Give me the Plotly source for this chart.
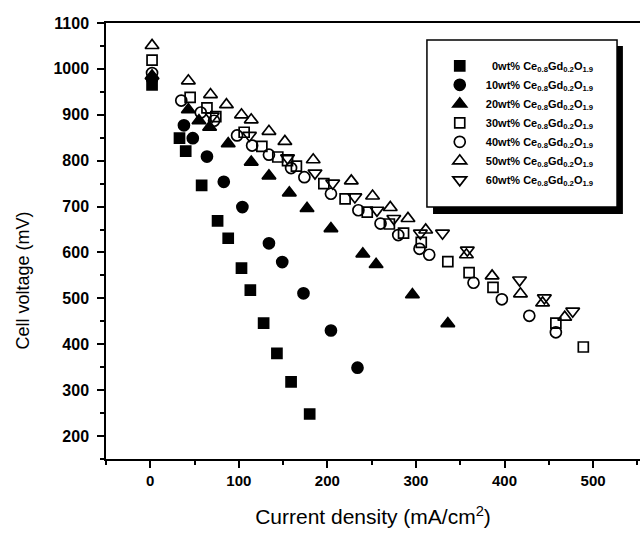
import plotly.graph_objects as go

# ---- data ----
labels = ["\u20070wt%", "10wt%", "20wt%", "30wt%", "40wt%", "50wt%", "60wt%"]

x0 = [2, 33, 40, 58, 76, 88, 103, 113, 128, 143, 159, 180]
y0 = [965, 849, 821, 746, 669, 631, 566, 518, 446, 380, 318, 248]

x10 = [2, 38, 48, 64, 83, 104, 134, 149, 173, 204, 234]
y10 = [978, 877, 849, 809, 754, 699, 620, 579, 511, 430, 349]

x20 = [2, 43, 55, 67, 88, 114, 134, 157, 177, 204, 240, 255, 296, 336]
y20 = [985, 911, 887, 873, 837, 797, 767, 730, 696, 652, 597, 574, 508, 445]

x30 = [2, 45, 64, 74, 106, 126, 144, 155, 165, 196, 220, 245, 270, 286, 306, 336, 360, 387, 458, 489]
y30 = [1019, 938, 915, 896, 862, 831, 808, 800, 788, 750, 717, 688, 662, 642, 622, 580, 556, 524, 446, 394]

x40 = [2, 35, 57, 72, 98, 115, 134, 159, 174, 204, 235, 260, 280, 304, 315, 365, 397, 428, 458]
y40 = [991, 931, 905, 887, 855, 833, 813, 784, 764, 728, 692, 663, 638, 608, 595, 534, 498, 462, 426]

x50 = [2, 43, 68, 86, 103, 114, 134, 152, 184, 227, 251, 271, 291, 311, 357, 386, 418, 443, 468]
y50 = [1051, 974, 944, 922, 900, 889, 864, 842, 802, 756, 723, 698, 674, 649, 595, 549, 510, 490, 459]

x60 = [70, 112, 155, 186, 206, 231, 256, 275, 305, 330, 358, 417, 445, 477]
y60 = [897, 855, 806, 773, 751, 721, 692, 674, 642, 642, 605, 540, 501, 472]

xs = [x0, x10, x20, x30, x40, x50, x60]
ys = [y0, y10, y20, y30, y40, y50, y60]
symbols = ["square", "circle", "triangle-up", "square-open", "circle-open",
           "triangle-up-open", "triangle-down-open"]
sizes = [10, 11, 12, 10, 11, 12, 12]

FONT = "Liberation Sans, Arial, sans-serif"

fig = go.Figure()
for lab, x, y, sym, sz in zip(labels, xs, ys, symbols, sizes):
    fig.add_trace(go.Scatter(
        x=x, y=y, mode="markers",
        name="\u00a0\u00a0" + lab + " Ce<sub>0.8</sub>Gd<sub>0.2</sub>O<sub>1.9</sub>",
        marker=dict(symbol=sym, size=sz, color="black",
                    line=dict(color="black", width=1.7)),
    ))

# legend frame with drop shadow
fig.add_shape(type="rect", xref="paper", yref="paper",
              x0=0.6124, x1=0.968, y0=0.562, y1=0.947,
              fillcolor="black", line=dict(width=0), layer="above")
fig.add_shape(type="rect", xref="paper", yref="paper",
              x0=0.601, x1=0.957, y0=0.578, y1=0.961,
              fillcolor="white", line=dict(color="black", width=1.5), layer="above")

# y-axis title as an annotation (positioned as in the reference)
fig.add_annotation(text="Cell voltage (mV)", xref="paper", yref="paper",
                   x=-0.155, y=0.41, xanchor="center", yanchor="middle",
                   textangle=-90, showarrow=False,
                   font=dict(size=18, family=FONT, color="#000000"))

fig.update_layout(
    width=640, height=534,
    margin=dict(l=106, r=0, t=23, b=75),
    paper_bgcolor="white", plot_bgcolor="white",
    font=dict(family=FONT, color="black"),
    showlegend=True,
    legend=dict(x=0.625, y=0.935, xanchor="left", yanchor="top",
                bgcolor="rgba(0,0,0,0)", borderwidth=0,
                font=dict(size=11, family=FONT, weight="bold"),
                itemwidth=30, tracegroupgap=0),
)
fig.update_xaxes(
    range=[-50, 553], showgrid=False, zeroline=False,
    showline=True, linecolor="black", linewidth=1.5, mirror=True,
    ticks="outside", ticklen=7, tickwidth=1.5, tickcolor="black",
    tick0=0, dtick=100,
    minor=dict(ticks="outside", ticklen=4, tickwidth=1.5, tickcolor="black", dtick=50),
    tickfont=dict(size=15, family=FONT, weight="bold"),
    title=dict(text="Current density (mA/cm<sup>2</sup>)",
               font=dict(size=21, family=FONT), standoff=22),
)
fig.update_yaxes(
    range=[150, 1100], showgrid=False, zeroline=False,
    showline=True, linecolor="black", linewidth=1.5, mirror=False,
    ticks="outside", ticklen=7, tickwidth=1.5, tickcolor="black",
    tick0=200, dtick=100, ticklabelstandoff=5,
    minor=dict(ticks="outside", ticklen=4, tickwidth=1.5, tickcolor="black", dtick=50),
    tickfont=dict(size=16, family=FONT, weight="bold"),
)

fig.write_html("out.html")
